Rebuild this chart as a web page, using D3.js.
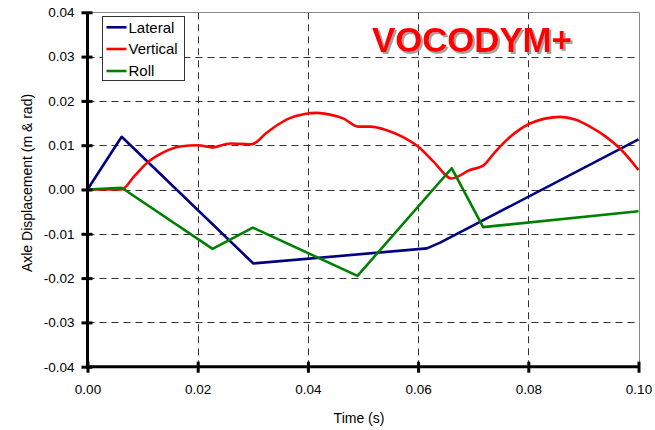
<!DOCTYPE html>
<html><head><meta charset="utf-8">
<script src="https://cdn.jsdelivr.net/npm/d3@7"></script>
<style>body{margin:0;background:#fff}svg{display:block;font-family:"Liberation Sans",Arial,sans-serif}</style>
</head><body><svg id="c" width="655" height="430">
<defs><filter id="sh" x="-10%" y="-10%" width="130%" height="140%"><feDropShadow dx="2" dy="2" stdDeviation="0.6" flood-color="#999" flood-opacity="0.9"/></filter></defs>
</svg>
<script>
const xTicks = [0, 0.02, 0.04, 0.06, 0.08, 0.10];
const yTicks = [-0.04, -0.03, -0.02, -0.01, 0, 0.01, 0.02, 0.03, 0.04];
const seriesNames = ["Lateral", "Vertical", "Roll"];
const seriesColors = ["#000080", "#ff0000", "#008000"];
const lateral = [[0,0],[0.0062,0.0119],[0.0301,-0.0167],[0.0616,-0.0133],[0.0640,-0.0120],[0.1,0.0113]];
const vertical = [[0,0],[0.0062,0],[0.0085,0.0030],[0.0107,0.0059],[0.0135,0.0082],[0.0168,0.0097],[0.0201,0.0100],[0.0225,0.0095],[0.0259,0.0104],[0.0298,0.0102],[0.0325,0.0128],[0.0349,0.0149],[0.0367,0.0161],[0.0392,0.0170],[0.0416,0.0173],[0.0440,0.0169],[0.0465,0.0160],[0.0491,0.0142],[0.0513,0.0142],[0.0543,0.0134],[0.0570,0.0120],[0.0600,0.0097],[0.0628,0.0063],[0.0661,0.0025],[0.0694,0.0044],[0.0718,0.0054],[0.0740,0.0085],[0.0761,0.0112],[0.0803,0.0149],[0.0830,0.0160],[0.0858,0.0164],[0.0885,0.0158],[0.0912,0.0142],[0.0940,0.0120],[0.0966,0.0093],[0.1000,0.0044]];
const roll = [[0,0],[0.0062,0.0004],[0.0227,-0.0134],[0.0300,-0.0086],[0.0490,-0.0195],[0.0661,0.0048],[0.0718,-0.0085],[0.1,-0.0049]];
const series = [lateral, vertical, roll];

const svg = d3.select("#c");
const x = d3.scaleLinear().domain([0, 0.1]).range([87.5, 638.5]);
const y = d3.scaleLinear().domain([-0.04, 0.04]).range([366.7, 12.3]);
const fmt = d => d3.format(".2f")(d).replace("\u2212", "-");

// grid
const g = svg.append("g");
g.selectAll(".vg").data(xTicks.filter(d => d > 0 && d < 0.1)).enter().append("line")
  .attr("x1", d => Math.round(x(d)) + 0.5).attr("x2", d => Math.round(x(d)) + 0.5)
  .attr("y1", y(0.04)).attr("y2", y(-0.04))
  .attr("stroke", "#333").attr("stroke-width", 1).attr("stroke-dasharray", "7,5");
g.selectAll(".hg").data(yTicks.filter(d => d > -0.04 && d < 0.04)).enter().append("line")
  .attr("y1", d => Math.round(y(d)) + 0.5).attr("y2", d => Math.round(y(d)) + 0.5)
  .attr("x1", x(0)).attr("x2", x(0.1))
  .attr("stroke", "#333").attr("stroke-width", 1).attr("stroke-dasharray", "7,5");
// top/right border
svg.append("path").attr("d", `M${x(0)},${Math.round(y(0.04))+0.5}H${Math.round(x(0.1))+0.5}V${y(-0.04)}`)
  .attr("fill", "none").attr("stroke", "#888").attr("stroke-width", 1);

// title with shadow
svg.append("text").attr("x", 372).attr("y", 52).attr("font-size", 35).attr("font-weight", "bold")
  .attr("fill", "#ff0000").attr("textLength", 200).attr("filter", "url(#sh)").text("VOCODYM+");

// lines
series.forEach((s, i) => {
  const line = d3.line().x(d => x(d[0])).y(d => y(d[1])).curve(i === 1 ? d3.curveMonotoneX : d3.curveLinear);
  svg.append("path").datum(s).attr("fill", "none").attr("stroke", seriesColors[i])
    .attr("stroke-width", 2.6).attr("stroke-linejoin", "round").attr("d", line);
});

// axes
const yAxis = d3.axisLeft(y).tickValues(yTicks).tickFormat(fmt).tickSize(6).tickPadding(7);
const ya = svg.append("g").attr("transform", `translate(${x(0)},0)`).call(yAxis);
const xAxis = d3.axisBottom(x).tickValues(xTicks).tickFormat(fmt).tickSize(6).tickPadding(12);
const xa = svg.append("g").attr("transform", `translate(0,${y(-0.04)})`).call(xAxis);
[ya, xa].forEach(a => {
  a.select(".domain").attr("stroke", "#000").attr("stroke-width", 3);
  a.selectAll(".tick line").attr("stroke", "#000").attr("stroke-width", 3);
  a.selectAll("text").attr("font-size", 13.5).attr("fill", "#000").attr("font-family", '"Liberation Sans",Arial,sans-serif');
});
ya.selectAll(".tick line").attr("x1", 5);
xa.selectAll(".tick line").attr("y1", -5);
ya.select(".domain").attr("d", `M0,${y(0.04)}V${y(-0.04)+1.5}`);
xa.select(".domain").attr("d", `M${x(0)-1.5},0H${x(0.1)}`);

// axis titles
svg.append("text").attr("x", 359).attr("y", 423).attr("text-anchor", "middle").attr("font-size", 14).text("Time (s)");
svg.append("text").attr("transform", "translate(32,183) rotate(-90)").attr("text-anchor", "middle").attr("font-size", 14).text("Axle Displacement (m & rad)");

// legend
const lg = svg.append("g");
lg.append("rect").attr("x", 102.5).attr("y", 16.5).attr("width", 82).attr("height", 64)
  .attr("fill", "#fff").attr("stroke", "#333").attr("stroke-width", 1);
const rows = [27.3, 49, 71];
seriesNames.forEach((n, i) => {
  lg.append("line").attr("x1", 106.5).attr("x2", 126.5).attr("y1", rows[i]).attr("y2", rows[i])
    .attr("stroke", seriesColors[i]).attr("stroke-width", 2.6);
  lg.append("text").attr("x", 128.5).attr("y", rows[i] + 5.3).attr("font-size", 15).text(n);
});
</script></body></html>
